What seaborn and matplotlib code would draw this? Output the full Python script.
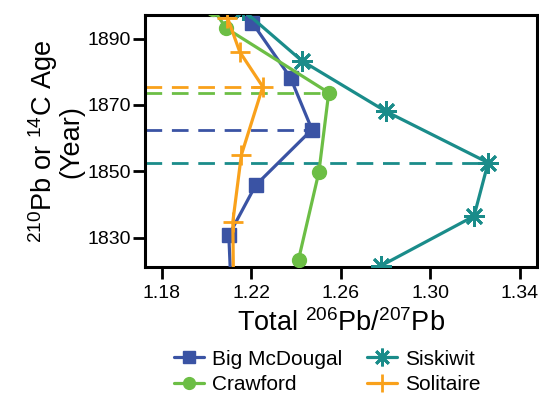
import matplotlib
matplotlib.use("Agg")
import matplotlib.pyplot as plt
import seaborn as sns
import pandas as pd
from matplotlib.lines import Line2D

# ---- data ----
bigmc_ratio = [1.2204, 1.2375, 1.2471, 1.2219, 1.2099, 1.2109]
bigmc_year = [1894.8, 1878.2, 1862.6, 1845.8, 1830.7, 1815.0]

crawford_ratio = [1.2028, 1.2088, 1.2546, 1.2502, 1.2411]
crawford_year = [1899.0, 1893.1, 1873.7, 1849.8, 1823.4]

siskiwit_ratio = [1.2163, 1.2426, 1.2801, 1.3259, 1.3196, 1.2782]
siskiwit_year = [1898.6, 1883.3, 1868.1, 1852.6, 1836.5, 1821.6]

solitaire_ratio = [1.2093, 1.2148, 1.2251, 1.2155, 1.2117, 1.2120]
solitaire_year = [1896.3, 1886.0, 1875.5, 1854.9, 1834.8, 1815.0]

# horizontal dashed markers (year of change, ratio at that year)
dash_year = [1862.5, 1873.7, 1852.6, 1875.5]
dash_ratio = [1.2471, 1.2546, 1.3259, 1.2251]

names = ["Big McDougal", "Crawford", "Siskiwit", "Solitaire"]
colors = ["#3A53A4", "#6CBE45", "#1A8C8A", "#F9A11B"]
markers = ["s", "o", (8, 2, 0), "+"]
msizes = [10.5, 10, 15, 15]
mews = [1, 1, 2, 2]

xticks = [1.18, 1.22, 1.26, 1.30, 1.34]
yticks = [1830, 1850, 1870, 1890]
xlim = (1.1724, 1.3477)
ylim = (1821.1, 1897.1)

series = [(bigmc_ratio, bigmc_year), (crawford_ratio, crawford_year),
          (siskiwit_ratio, siskiwit_year), (solitaire_ratio, solitaire_year)]

sns.set_theme(style="ticks")
plt.rcParams["font.family"] = ["Liberation Sans", "DejaVu Sans"]
plt.rcParams["font.weight"] = "normal"
plt.rcParams["mathtext.fontset"] = "custom"
plt.rcParams["mathtext.rm"] = "Liberation Sans"
plt.rcParams["mathtext.default"] = "rm"
plt.rcParams["text.color"] = "black"
plt.rcParams["axes.labelcolor"] = "black"

fig = plt.figure(figsize=(5.39, 3.97), dpi=100)
ax = fig.add_axes([0.269, 0.327, 0.727, 0.635])

handles = []
for i, ((xs, ys), name) in enumerate(zip(series, names)):
    df = pd.DataFrame({"ratio": xs, "year": ys})
    sns.lineplot(data=df, x="ratio", y="year", sort=False, estimator=None,
                 color=colors[i], linewidth=2.3, ax=ax, zorder=3 + i * 0.1)
    ln = ax.lines[-1]
    ln.set_marker(markers[i])
    ln.set_markersize(msizes[i])
    ln.set_markeredgewidth(mews[i])
    ln.set_markerfacecolor(colors[i])
    ln.set_markeredgecolor(colors[i])
    handles.append(Line2D([], [], color=colors[i], linewidth=2.3, marker=markers[i],
                          markersize=msizes[i] * 0.85, markeredgewidth=mews[i],
                          markerfacecolor=colors[i], markeredgecolor=colors[i]))

for i in range(4):
    ax.plot([xlim[0], dash_ratio[i]], [dash_year[i], dash_year[i]],
            color=colors[i], linewidth=2.0, dashes=(6, 3.5), zorder=2)

ax.set_xlim(*xlim)
ax.set_ylim(*ylim)
ax.set_xticks(xticks)
ax.set_xticklabels([f"{t:.2f}" for t in xticks])
ax.set_yticks(yticks)
ax.set_yticklabels([str(t) for t in yticks])
ax.tick_params(axis="x", length=8.5, width=2.0, labelsize=14, color="black",
               labelcolor="black", pad=4.5)
ax.tick_params(axis="y", length=8.5, width=2.0, labelsize=14, color="black",
               labelcolor="black", pad=1.5)
for lab in ax.get_xticklabels() + ax.get_yticklabels():
    lab.set_fontweight("normal")
    lab.set_family(["Liberation Sans", "DejaVu Sans"])
for s in ax.spines.values():
    s.set_linewidth(2.2)
    s.set_color("black")

ax.set_xlabel(r"Total $^{206}$Pb/$^{207}$Pb", fontsize=19.5, labelpad=5)
ax.set_ylabel("$^{210}$Pb or $^{14}$C Age\n(Year)", fontsize=19.5, labelpad=2,
              linespacing=0.95)

leg = ax.legend(handles, names, ncol=2, loc="upper center",
                bbox_to_anchor=(0.465, -0.302), frameon=False, fontsize=15,
                handlelength=1.45, handletextpad=0.4, columnspacing=1.15,
                labelspacing=0.3, borderaxespad=0, borderpad=0.3)

fig.savefig("out.png", dpi=100)
